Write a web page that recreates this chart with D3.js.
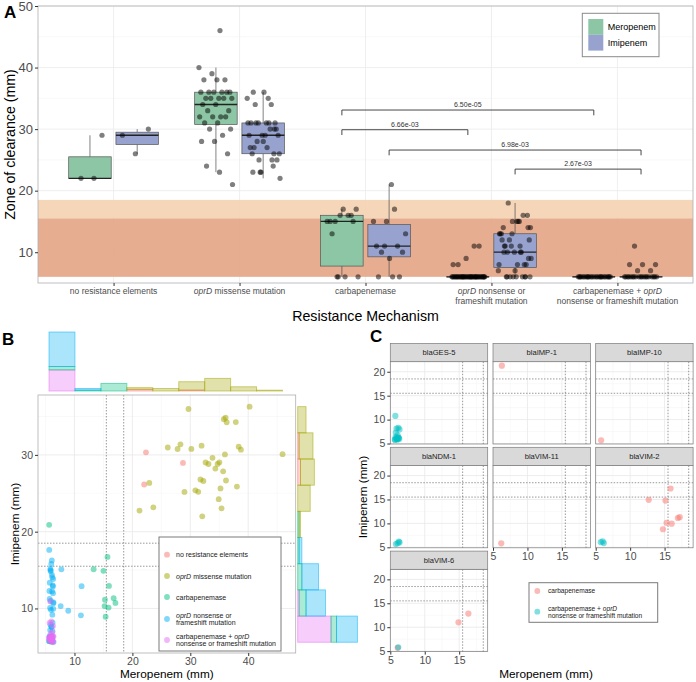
<!DOCTYPE html>
<html><head><meta charset="utf-8">
<script src="https://cdn.jsdelivr.net/npm/d3@7"></script>
<style>body{margin:0;background:#fff}svg{display:block}text{white-space:pre}</style>
</head><body><svg id="chart" width="696" height="682"></svg>
<script>
// ---------------- DATA ----------------
const mechanisms = ["no resistance elements","oprD missense mutation","carbapenemase","oprD nonsense or frameshift mutation","carbapenemase + oprD nonsense or frameshift mutation"];
const mechanismAxisLines = [["no resistance elements"],["oprD missense mutation"],["carbapenemase"],["oprD nonsense or","frameshift mutation"],["carbapenemase + oprD","nonsense or frameshift mutation"]];
const mechanismLegendLines = [["no resistance elements"],["oprD missense mutation"],["carbapenemase"],["oprD nonsense or","frameshift mutation"],["carbapenemase + oprD","nonsense or frameshift mutation"]];
const antibiotics = ["Meropenem","Imipenem"];
// paired zone of clearance per isolate: [Meropenem mm, Imipenem mm]
const noResistance = [[22,30],[22,26],[29,29]];
const oprDMissense = [[21,23],[23,26],[24,23],[26,31],[28,31],[28,31],[29,25],[30,36],[30,31],[31,25],[31,25],[32,22],[32,27],[32,27],[32,31],[33,29],[33,29],[34,30],[34,28],[35,29],[35,29],[35,26],[35,24],[35,23],[36,35],[36,35],[36,34],[36,30],[36,28],[36,27],[38,34],[38,31],[38,26],[39,31],[40,36],[46,30]];
// [Meropenem, Imipenem, carbapenemase gene]
const carbapenemase = [[6,21,"blaIMP-1"],[6,6,"blaIMP-10"],[6,6,"blaVIM-11"],[13,15,"blaVIM-2"],[15,15,"blaVIM-2"],[16,17,"blaVIM-2"],[15,10,"blaVIM-2"],[16,10,"blaVIM-2"],[15,9,"blaVIM-2"],[17,11,"blaVIM-2"],[17,11,"blaVIM-2"],[15,11,"blaVIM-6"],[16,13,"blaVIM-6"],[6,6,"blaVIM-6"]];
const oprDNonsense = [[6,6],[6,15],[6,10],[6,6],[6,13],[6,8],[6,11],[6,6],[6,14],[6,7],[6,12],[6,16],[6,6],[6,9],[6,15],[6,11],[6,8],[6,6],[6,13],[6,10],[6,18],[6,12],[6,6],[6,14],[6,8],[6,11],[6,7],[6,15],[6,6],[6,16],[6,10],[6,13],[6,6],[6,12],[6,14],[6,8],[6,11],[6,6],[8,15],[11,13],[9,10],[8,10],[11,9]];
const carbapenemaseOprD = [[6,11,"blaGES-5"],[6,8,"blaGES-5"],[6,8,"blaGES-5"],[6,8,"blaGES-5"],[6,7,"blaGES-5"],[6,7,"blaGES-5"],[6,6,"blaGES-5"],[6,6,"blaGES-5"],[6,6,"blaGES-5"],[6,6,"blaGES-5"],[6,6,"blaGES-5"],[6,6,"blaGES-5"],[6,6,"blaGES-5"],[6,6,"blaGES-5"],[6,6,"blaGES-5"],[6,6,"blaGES-5"],[6,6,"blaGES-5"],[6,6,"blaNDM-1"],[6,6,"blaNDM-1"],[6,6,"blaNDM-1"],[6,6,"blaNDM-1"],[6,6,"blaVIM-2"],[6,6,"blaVIM-2"],[6,6,"blaVIM-2"],[6,6,"blaVIM-6"]];
const genes = ["blaGES-5","blaIMP-1","blaIMP-10","blaNDM-1","blaVIM-11","blaVIM-2","blaVIM-6"];
const breakpoints = [15.5, 18.5];   // intermediate range bounds (mm)
const diskFloor = 6;                 // minimum zone (disk diameter, mm)
const sigPairs = [[2,0,4,0],[2,0,3,0],[2,1,4,1],[3,1,4,1]]; // [mechA, abA, mechB, abB]
const sigLabels = ["6.50e-05","6.66e-03","6.98e-03","2.67e-03"];
const sigLevels = [33.1, 29.9, 26.6, 23.5];
const zoneTicks = [10,20,30,40,50];
const bxTicks = [10,20,30,40], byTicks = [10,20,30];
const cTicks = [5,10,15,20];
const cLegendLabels = [["carbapenemase"],["carbapenemase + oprD","nonsense or frameshift mutation"]];

// ---------------- SETUP ----------------
const FONT = "'Liberation Sans', Arial, Helvetica, sans-serif";
const svg = d3.select("#chart").style("font-family", FONT);
const groups = [noResistance, oprDMissense, carbapenemase, oprDNonsense, carbapenemaseOprD];
const abFill = ["#8cc6a4", "#97a2cf"];
const hue = ["#F8766D","#A3A500","#00BF7D","#00B0F6","#E76BF3"];
const frac = x => x - Math.floor(x);
const PHI = 0.6180339887, PL = 0.7548776662;

function rich(sel, str) {
  str.split(/(oprD)/).filter(s => s.length).forEach(s => {
    sel.append("tspan").text(s).style("font-style", s === "oprD" ? "italic" : "normal");
  });
}

// ================= PANEL A =================
const A = {l:38, r:693, t:6, b:283};
const xA = d3.scalePoint().domain(mechanisms).range([A.l, A.r]).padding(0.6);
const step = xA.step();
const dodge = [-0.1875*step, 0.1875*step];
const boxW = 0.3375*step;
const yA = d3.scaleLinear().domain([5, 50]).range([A.b, A.t]);
const gA = svg.append("g");

// grid
d3.range(15, 50, 10).forEach(v => gA.append("line").attr("x1",A.l).attr("x2",A.r).attr("y1",yA(v)).attr("y2",yA(v)).attr("stroke","#f2f2f2").attr("stroke-width",0.5));
zoneTicks.forEach(v => gA.append("line").attr("x1",A.l).attr("x2",A.r).attr("y1",yA(v)).attr("y2",yA(v)).attr("stroke","#ebebeb").attr("stroke-width",0.8));
mechanisms.forEach(m => gA.append("line").attr("x1",xA(m)).attr("x2",xA(m)).attr("y1",A.t).attr("y2",A.b).attr("stroke","#ebebeb").attr("stroke-width",0.8));

// bands
gA.append("rect").attr("x",A.l).attr("width",A.r-A.l).attr("y",yA(breakpoints[1])).attr("height",yA(breakpoints[0])-yA(breakpoints[1])).attr("fill","#f4d2b3").attr("opacity",0.92);
gA.append("rect").attr("x",A.l).attr("width",A.r-A.l).attr("y",yA(breakpoints[0])).attr("height",yA(diskFloor)-yA(breakpoints[0])).attr("fill","#e4a688").attr("opacity",0.92);

function boxStats(vals){
  const s = vals.slice().sort(d3.ascending);
  const q1 = d3.quantileSorted(s,0.25), med = d3.quantileSorted(s,0.5), q3 = d3.quantileSorted(s,0.75);
  const iqr = q3-q1;
  return {q1, med, q3, lo: d3.min(s.filter(v => v >= q1-1.5*iqr)), hi: d3.max(s.filter(v => v <= q3+1.5*iqr))};
}

groups.forEach((grp, gi) => {
  antibiotics.forEach((ab, ai) => {
    const vals = grp.map(d => d[ai]);
    const st = boxStats(vals);
    const cx = xA(mechanisms[gi]) + dodge[ai];
    const g = gA.append("g");
    g.append("line").attr("x1",cx).attr("x2",cx).attr("y1",yA(st.hi)).attr("y2",yA(st.q3)).attr("stroke","#4d4d4d").attr("stroke-width",0.7);
    g.append("line").attr("x1",cx).attr("x2",cx).attr("y1",yA(st.q1)).attr("y2",yA(st.lo)).attr("stroke","#4d4d4d").attr("stroke-width",0.7);
    g.append("rect").attr("x",cx-boxW/2).attr("width",boxW).attr("y",yA(st.q3)).attr("height",Math.max(0.01,yA(st.q1)-yA(st.q3)))
      .attr("fill",abFill[ai]).attr("stroke","#555").attr("stroke-width",0.7);
    g.append("line").attr("x1",cx-boxW/2).attr("x2",cx+boxW/2).attr("y1",yA(st.med)).attr("y2",yA(st.med)).attr("stroke","#222").attr("stroke-width",1.3);
  });
});
// jittered points
groups.forEach((grp, gi) => {
  antibiotics.forEach((ab, ai) => {
    const cx = xA(mechanisms[gi]) + dodge[ai];
    grp.forEach((d, i) => {
      const jx = (frac((i+1)*PHI + gi*0.37 + ai*0.21) - 0.5) * 0.27 * step;
      gA.append("circle").attr("cx", cx + jx).attr("cy", yA(d[ai])).attr("r", 2.6).attr("fill","#000").attr("fill-opacity",0.5);
    });
  });
});
// significance brackets
sigPairs.forEach((p, i) => {
  const x1 = xA(mechanisms[p[0]]) + dodge[p[1]], x2 = xA(mechanisms[p[2]]) + dodge[p[3]];
  const y = yA(sigLevels[i]);
  gA.append("path").attr("d", `M${x1},${y+5.3}V${y}H${x2}V${y+5.3}`).attr("fill","none").attr("stroke","#333").attr("stroke-width",0.9);
  gA.append("text").attr("x",(x1+x2)/2).attr("y",y-3).attr("text-anchor","middle").attr("font-size",7).attr("fill","#333").text(sigLabels[i]);
});
// border
gA.append("rect").attr("x",A.l).attr("y",A.t).attr("width",A.r-A.l).attr("height",A.b-A.t).attr("fill","none").attr("stroke","#b0b0b0").attr("stroke-width",0.8);
// axes
const axA = gA.append("g").attr("transform",`translate(${A.l},0)`).call(d3.axisLeft(yA).tickValues(zoneTicks).tickSize(3).tickPadding(2));
axA.select(".domain").remove();
axA.selectAll("line").attr("stroke","#333");
axA.selectAll("text").attr("font-size",13).attr("fill","#4d4d4d").attr("font-family",FONT);
const axAx = gA.append("g").attr("transform",`translate(0,${A.b})`).call(d3.axisBottom(xA).tickSize(3).tickFormat(""));
axAx.select(".domain").remove(); axAx.selectAll("line").attr("stroke","#333");
mechanisms.forEach((m, i) => {
  mechanismAxisLines[i].forEach((ln, k) => {
    const t = gA.append("text").attr("x", xA(m)).attr("y", 294 + k*10.3).attr("text-anchor","middle").attr("font-size",8.5).attr("fill","#4d4d4d");
    rich(t, ln);
  });
});
gA.append("text").attr("x",(A.l+A.r)/2).attr("y",320.5).attr("text-anchor","middle").attr("font-size",14.2).attr("fill","#000").text("Resistance Mechanism");
gA.append("text").attr("transform",`translate(14.5,${(A.t+A.b)/2}) rotate(-90)`).attr("text-anchor","middle").attr("font-size",14.2).attr("fill","#000").text("Zone of clearance (mm)");
// legend A
const lgA = gA.append("g");
lgA.append("rect").attr("x",582.3).attr("y",13.3).attr("width",76.7).attr("height",43.4).attr("fill","#fff").attr("stroke","#8a8a8a").attr("stroke-width",1);
antibiotics.forEach((ab, i) => {
  lgA.append("rect").attr("x",588.3).attr("y",19+i*15.8).attr("width",15).attr("height",15.8).attr("fill",abFill[i]);
  lgA.append("text").attr("x",607.7).attr("y",30.2+i*15.8).attr("font-size",9).attr("fill","#000").text(ab);
});
svg.append("text").attr("x",4).attr("y",18).attr("font-size",17).attr("font-weight","bold").text("A");

// ================= PANEL B =================
const B = {l:38, r:295.7, t:395, b:653};
const xB = d3.scaleLinear().domain([3.7, 48.2]).range([B.l, B.r]);
const yB = d3.scaleLinear().domain([4.2, 37.8]).range([B.b, B.t]);
const gB = svg.append("g");
const ptsB = [];
let k = 0;
groups.forEach((grp, gi) => grp.forEach(d => {
  k++;
  ptsB.push({gi, mer: d[0] + (frac(k*PHI+0.31)-0.5)*0.8, imi: d[1] + (frac(k*PL+0.17)-0.5)*0.8});
}));
gB.append("rect").attr("x",B.l).attr("y",B.t).attr("width",B.r-B.l).attr("height",B.b-B.t).attr("fill","#fff");
[5,15,25,35,45].forEach(v => gB.append("line").attr("x1",xB(v)).attr("x2",xB(v)).attr("y1",B.t).attr("y2",B.b).attr("stroke","#f3f3f3").attr("stroke-width",0.5));
[15,25,35].forEach(v => gB.append("line").attr("y1",yB(v)).attr("y2",yB(v)).attr("x1",B.l).attr("x2",B.r).attr("stroke","#f3f3f3").attr("stroke-width",0.5));
bxTicks.forEach(v => gB.append("line").attr("x1",xB(v)).attr("x2",xB(v)).attr("y1",B.t).attr("y2",B.b).attr("stroke","#e8e8e8").attr("stroke-width",0.8));
byTicks.forEach(v => gB.append("line").attr("y1",yB(v)).attr("y2",yB(v)).attr("x1",B.l).attr("x2",B.r).attr("stroke","#e8e8e8").attr("stroke-width",0.8));
breakpoints.forEach(v => {
  gB.append("line").attr("x1",xB(v)).attr("x2",xB(v)).attr("y1",B.t).attr("y2",B.b).attr("stroke","#555").attr("stroke-width",0.6).attr("stroke-dasharray","1.5,1.5");
  gB.append("line").attr("y1",yB(v)).attr("y2",yB(v)).attr("x1",B.l).attr("x2",B.r).attr("stroke","#555").attr("stroke-width",0.6).attr("stroke-dasharray","1.5,1.5");
});
ptsB.forEach(p => gB.append("circle").attr("cx",xB(p.mer)).attr("cy",yB(p.imi)).attr("r",2.9).attr("fill",hue[p.gi]).attr("fill-opacity",0.5));
gB.append("rect").attr("x",B.l).attr("y",B.t).attr("width",B.r-B.l).attr("height",B.b-B.t).attr("fill","none").attr("stroke","#b0b0b0").attr("stroke-width",0.8);
const axBy = gB.append("g").attr("transform",`translate(${B.l},0)`).call(d3.axisLeft(yB).tickValues(byTicks).tickSize(3).tickPadding(2));
const axBx = gB.append("g").attr("transform",`translate(0,${B.b})`).call(d3.axisBottom(xB).tickValues(bxTicks).tickSize(3).tickPadding(2));
[axBy, axBx].forEach(a => { a.select(".domain").remove(); a.selectAll("line").attr("stroke","#333"); a.selectAll("text").attr("font-size",10.5).attr("fill","#4d4d4d").attr("font-family",FONT); });
gB.append("text").attr("x",(B.l+B.r)/2).attr("y",678).attr("text-anchor","middle").attr("font-size",11.8).text("Meropenem (mm)");
gB.append("text").attr("transform",`translate(18.5,${(B.t+B.b)/2}) rotate(-90)`).attr("text-anchor","middle").attr("font-size",11.8).text("Imipenem (mm)");

// marginal histograms (stacked)
const stackOrder = [0,4,2,3,1];
const NB = 9;
function binCounts(key) {
  const ext = d3.extent(ptsB, p => p[key]);
  const w = (ext[1]-ext[0]) / NB;
  const rows = d3.range(NB).map(b => { const r = {x0: ext[0]+b*w, x1: ext[0]+(b+1)*w}; stackOrder.forEach(s => r[s] = 0); return r; });
  ptsB.forEach(p => { rows[Math.min(NB-1, Math.floor((p[key]-ext[0])/w))][p.gi]++; });
  return rows;
}
const merBins = binCounts("mer"), imiBins = binCounts("imi");
const merStack = d3.stack().keys(stackOrder)(merBins);
const imiStack = d3.stack().keys(stackOrder)(imiBins);
const hTop = d3.scaleLinear().domain([0, d3.max(merStack[merStack.length-1], d => d[1])]).range([391, 332]);
const hRight = d3.scaleLinear().domain([0, d3.max(imiStack[imiStack.length-1], d => d[1])]).range([297.7, 357.4]);
merStack.forEach(layer => layer.forEach(d => {
  if (d[1] - d[0] <= 0) return;
  gB.append("rect").attr("x",xB(d.data.x0)).attr("width",xB(d.data.x1)-xB(d.data.x0)).attr("y",hTop(d[1])).attr("height",hTop(d[0])-hTop(d[1]))
    .attr("fill",hue[layer.key]).attr("fill-opacity",0.33).attr("stroke",hue[layer.key]).attr("stroke-opacity",0.55).attr("stroke-width",0.9);
}));
imiStack.forEach(layer => layer.forEach(d => {
  if (d[1] - d[0] <= 0) return;
  gB.append("rect").attr("y",yB(d.data.x1)).attr("height",yB(d.data.x0)-yB(d.data.x1)).attr("x",hRight(d[0])).attr("width",hRight(d[1])-hRight(d[0]))
    .attr("fill",hue[layer.key]).attr("fill-opacity",0.33).attr("stroke",hue[layer.key]).attr("stroke-opacity",0.55).attr("stroke-width",0.9);
}));
// legend B
const lgB = gB.append("g");
lgB.append("rect").attr("x",159).attr("y",537).attr("width",122).attr("height",114).attr("fill","#fff").attr("stroke","#7a7a7a").attr("stroke-width",1);
const lgBy = [554.7, 576, 597, 619, 640];
mechanisms.forEach((m, i) => {
  lgB.append("circle").attr("cx",167).attr("cy",lgBy[i]).attr("r",2.9).attr("fill",hue[i]).attr("fill-opacity",0.5);
  const lines = mechanismLegendLines[i];
  lines.forEach((ln, j) => {
    const t = lgB.append("text").attr("x",176).attr("y",lgBy[i] + 2.5 + (j - (lines.length-1)/2)*7.4).attr("font-size",7).attr("fill","#1a1a1a");
    rich(t, ln);
  });
});
svg.append("text").attr("x",2).attr("y",345).attr("font-size",17).attr("font-weight","bold").text("B");

// ================= PANEL C =================
const C = {l0:390.3, pw:97.4, colPitch:102.7, top0:343.5, sh:18.2, ph:82.3, rowPitch:103.8};
const xC = d3.scaleLinear().domain([5.0, 19.14]).range([0, C.pw]);
const yC = d3.scaleLinear().domain([4.9, 22.1]).range([C.ph, 0]);
const gC = svg.append("g");
const cGroups = [carbapenemase, carbapenemaseOprD];
const cHue = ["#F8766D", "#00BFC4"];
genes.forEach((gene, gi) => {
  const col = gi % 3, row = Math.floor(gi / 3);
  const px = C.l0 + col*C.colPitch, sy = C.top0 + row*C.rowPitch, py = sy + C.sh;
  const g = gC.append("g").attr("transform", `translate(${px},${py})`);
  g.append("rect").attr("width",C.pw).attr("height",C.ph).attr("fill","#fff");
  [7.5,12.5,17.5].forEach(v => {
    g.append("line").attr("x1",xC(v)).attr("x2",xC(v)).attr("y1",0).attr("y2",C.ph).attr("stroke","#f3f3f3").attr("stroke-width",0.5);
    g.append("line").attr("y1",yC(v)).attr("y2",yC(v)).attr("x1",0).attr("x2",C.pw).attr("stroke","#f3f3f3").attr("stroke-width",0.5);
  });
  cTicks.forEach(v => {
    if (v <= 19) g.append("line").attr("x1",xC(v)).attr("x2",xC(v)).attr("y1",0).attr("y2",C.ph).attr("stroke","#e8e8e8").attr("stroke-width",0.8);
    g.append("line").attr("y1",yC(v)).attr("y2",yC(v)).attr("x1",0).attr("x2",C.pw).attr("stroke","#e8e8e8").attr("stroke-width",0.8);
  });
  breakpoints.forEach(v => {
    g.append("line").attr("x1",xC(v)).attr("x2",xC(v)).attr("y1",0).attr("y2",C.ph).attr("stroke","#555").attr("stroke-width",0.6).attr("stroke-dasharray","1.5,1.5");
    g.append("line").attr("y1",yC(v)).attr("y2",yC(v)).attr("x1",0).attr("x2",C.pw).attr("stroke","#555").attr("stroke-width",0.6).attr("stroke-dasharray","1.5,1.5");
  });
  let n = 0;
  cGroups.forEach((grp, ci) => grp.filter(d => d[2] === gene).forEach(d => {
    n++;
    const jx = (frac(n*PHI + gi*0.29 + ci*0.5)-0.5)*0.7, jy = (frac(n*PL + gi*0.13 + ci*0.4)-0.5)*0.7;
    g.append("circle").attr("cx",xC(d[0]+jx)).attr("cy",yC(d[1]+jy)).attr("r",3.1).attr("fill",cHue[ci]).attr("fill-opacity",0.5);
  }));
  g.append("rect").attr("width",C.pw).attr("height",C.ph).attr("fill","none").attr("stroke","#7a7a7a").attr("stroke-width",0.7);
  // strip
  gC.append("rect").attr("x",px).attr("y",sy).attr("width",C.pw).attr("height",C.sh).attr("fill","#d9d9d9").attr("stroke","#7a7a7a").attr("stroke-width",0.7);
  gC.append("text").attr("x",px+C.pw/2).attr("y",sy+C.sh/2+2.7).attr("text-anchor","middle").attr("font-size",7.6).attr("fill","#1a1a1a").text(gene);
  if (col === 0) {
    const ay = g.append("g").call(d3.axisLeft(yC).tickValues(cTicks).tickSize(3).tickPadding(2));
    ay.select(".domain").remove(); ay.selectAll("line").attr("stroke","#333");
    ay.selectAll("text").attr("font-size",10.5).attr("fill","#4d4d4d").attr("font-family",FONT);
  }
  const bottomOfCol = (gi + 3 >= genes.length);
  if (bottomOfCol) {
    const ax = g.append("g").attr("transform",`translate(0,${C.ph})`).call(d3.axisBottom(xC).tickValues([5,10,15]).tickSize(3).tickPadding(2));
    ax.select(".domain").remove(); ax.selectAll("line").attr("stroke","#333");
    ax.selectAll("text").attr("font-size",10.5).attr("fill","#4d4d4d").attr("font-family",FONT);
  }
});
gC.append("text").attr("x",546).attr("y",678).attr("text-anchor","middle").attr("font-size",11.8).text("Meropenem (mm)");
gC.append("text").attr("transform",`translate(367,497) rotate(-90)`).attr("text-anchor","middle").attr("font-size",11.8).text("Imipenem (mm)");
// legend C
const lgC = gC.append("g");
lgC.append("rect").attr("x",529).attr("y",582.7).attr("width",128.7).attr("height",39.6).attr("fill","#fff").attr("stroke","#7a7a7a").attr("stroke-width",1);
const lgCy = [591, 611.7];
cLegendLabels.forEach((lines, i) => {
  lgC.append("circle").attr("cx",537.3).attr("cy",lgCy[i]).attr("r",2.9).attr("fill",cHue[i]).attr("fill-opacity",0.5);
  lines.forEach((ln, j) => {
    const t = lgC.append("text").attr("x",548).attr("y",lgCy[i] + 2.3 + (j - (lines.length-1)/2)*7).attr("font-size",6.6).attr("fill","#1a1a1a");
    rich(t, ln);
  });
});
svg.append("text").attr("x",370).attr("y",342).attr("font-size",17).attr("font-weight","bold").text("C");
</script></body></html>
